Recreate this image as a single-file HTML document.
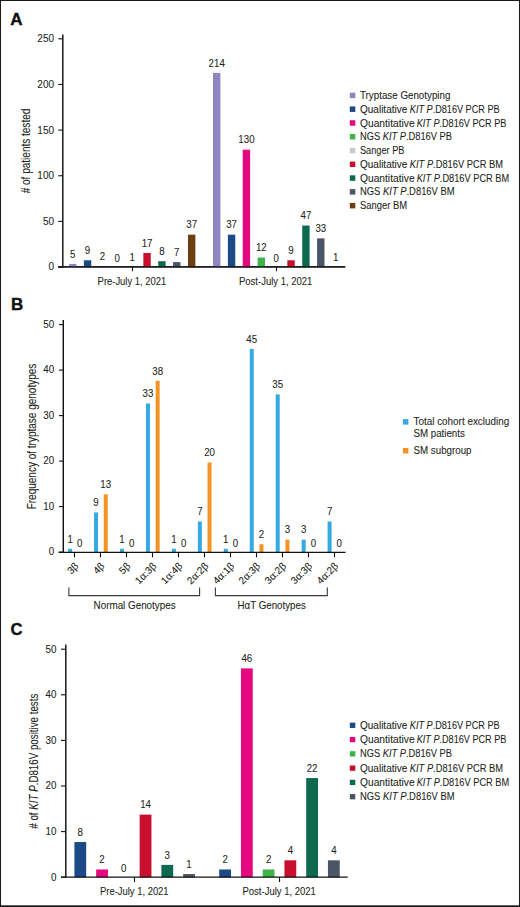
<!DOCTYPE html>
<html><head><meta charset="utf-8"><style>
html,body{margin:0;padding:0;background:#fff;}
body{width:520px;height:907px;overflow:hidden;position:relative;}
svg{position:absolute;left:0;top:0;font-family:"Liberation Sans", sans-serif;}
text{stroke:#231f20;stroke-width:0.08px;}
</style></head><body>
<svg width="520" height="907" viewBox="0 0 520 907">
<rect x="0" y="0" width="520" height="907" fill="#fff"/>
<text x="10.20" y="24.70" font-size="17" text-anchor="start" fill="#111" font-weight="bold" style="stroke:#111;stroke-width:0.4px">A</text>
<line x1="62.80" y1="34.50" x2="62.80" y2="267.40" stroke="#111111" stroke-width="1.45"/>
<line x1="58.30" y1="38.80" x2="62.80" y2="38.80" stroke="#111111" stroke-width="1.1"/>
<text transform="translate(54.00,42.20) scale(1,1.08)" font-size="10.0" text-anchor="end" fill="#231f20" font-weight="normal">250</text>
<line x1="58.30" y1="84.45" x2="62.80" y2="84.45" stroke="#111111" stroke-width="1.1"/>
<text transform="translate(54.00,87.85) scale(1,1.08)" font-size="10.0" text-anchor="end" fill="#231f20" font-weight="normal">200</text>
<line x1="58.30" y1="130.10" x2="62.80" y2="130.10" stroke="#111111" stroke-width="1.1"/>
<text transform="translate(54.00,133.50) scale(1,1.08)" font-size="10.0" text-anchor="end" fill="#231f20" font-weight="normal">150</text>
<line x1="58.30" y1="175.75" x2="62.80" y2="175.75" stroke="#111111" stroke-width="1.1"/>
<text transform="translate(54.00,179.15) scale(1,1.08)" font-size="10.0" text-anchor="end" fill="#231f20" font-weight="normal">100</text>
<line x1="58.30" y1="221.40" x2="62.80" y2="221.40" stroke="#111111" stroke-width="1.1"/>
<text transform="translate(54.00,224.80) scale(1,1.08)" font-size="10.0" text-anchor="end" fill="#231f20" font-weight="normal">50</text>
<line x1="58.30" y1="267.05" x2="62.80" y2="267.05" stroke="#111111" stroke-width="1.1"/>
<text transform="translate(54.00,270.45) scale(1,1.08)" font-size="10.0" text-anchor="end" fill="#231f20" font-weight="normal">0</text>
<line x1="58.20" y1="266.80" x2="345.20" y2="266.80" stroke="#111111" stroke-width="1.3"/>
<line x1="132.50" y1="266.80" x2="132.50" y2="271.20" stroke="#111111" stroke-width="1.1"/>
<line x1="276.50" y1="266.80" x2="276.50" y2="271.20" stroke="#111111" stroke-width="1.1"/>
<text x="97.60" y="285.20" font-size="10.3" text-anchor="start" fill="#231f20" font-weight="normal" textLength="68.6" lengthAdjust="spacingAndGlyphs">Pre-July 1, 2021</text>
<text x="239.00" y="285.20" font-size="10.3" text-anchor="start" fill="#231f20" font-weight="normal" textLength="73.4" lengthAdjust="spacingAndGlyphs">Post-July 1, 2021</text>
<text transform="translate(29.9,151.0) rotate(-90)" font-size="12.5" text-anchor="middle" fill="#231f20" textLength="84.6" lengthAdjust="spacingAndGlyphs"># of patients tested</text>
<rect x="69.00" y="263.93" width="7.40" height="3.37" fill="#9084c1"/>
<text transform="translate(72.70,257.53) scale(1,1.05)" font-size="9.7" text-anchor="middle" fill="#231f20" font-weight="normal">5</text>
<rect x="83.87" y="260.27" width="7.40" height="7.03" fill="#1b4a86"/>
<text transform="translate(87.57,253.87) scale(1,1.05)" font-size="9.7" text-anchor="middle" fill="#231f20" font-weight="normal">9</text>
<rect x="98.74" y="266.67" width="7.40" height="0.63" fill="#e5087f"/>
<text transform="translate(102.44,260.27) scale(1,1.05)" font-size="9.7" text-anchor="middle" fill="#231f20" font-weight="normal">2</text>
<text transform="translate(117.31,262.10) scale(1,1.05)" font-size="9.7" text-anchor="middle" fill="#231f20" font-weight="normal">0</text>
<rect x="128.48" y="267.59" width="7.40" height="-0.29" fill="#c9c9c9"/>
<text transform="translate(132.18,261.19) scale(1,1.05)" font-size="9.7" text-anchor="middle" fill="#231f20" font-weight="normal">1</text>
<rect x="143.35" y="252.96" width="7.40" height="14.34" fill="#c8102e"/>
<text transform="translate(147.05,246.56) scale(1,1.05)" font-size="9.7" text-anchor="middle" fill="#231f20" font-weight="normal">17</text>
<rect x="158.22" y="261.19" width="7.40" height="6.11" fill="#0d6a4e"/>
<text transform="translate(161.92,254.79) scale(1,1.05)" font-size="9.7" text-anchor="middle" fill="#231f20" font-weight="normal">8</text>
<rect x="173.09" y="262.10" width="7.40" height="5.20" fill="#4b5566"/>
<text transform="translate(176.79,255.70) scale(1,1.05)" font-size="9.7" text-anchor="middle" fill="#231f20" font-weight="normal">7</text>
<rect x="187.96" y="234.68" width="7.40" height="32.62" fill="#6b3f10"/>
<text transform="translate(191.66,228.28) scale(1,1.05)" font-size="9.7" text-anchor="middle" fill="#231f20" font-weight="normal">37</text>
<rect x="213.00" y="72.90" width="7.40" height="194.40" fill="#9084c1"/>
<text transform="translate(216.70,66.50) scale(1,1.05)" font-size="9.7" text-anchor="middle" fill="#231f20" font-weight="normal">214</text>
<rect x="227.87" y="234.68" width="7.40" height="32.62" fill="#1b4a86"/>
<text transform="translate(231.57,228.28) scale(1,1.05)" font-size="9.7" text-anchor="middle" fill="#231f20" font-weight="normal">37</text>
<rect x="242.74" y="149.68" width="7.40" height="117.62" fill="#e5087f"/>
<text transform="translate(246.44,143.28) scale(1,1.05)" font-size="9.7" text-anchor="middle" fill="#231f20" font-weight="normal">130</text>
<rect x="257.61" y="257.53" width="7.40" height="9.77" fill="#3fb34a"/>
<text transform="translate(261.31,251.13) scale(1,1.05)" font-size="9.7" text-anchor="middle" fill="#231f20" font-weight="normal">12</text>
<text transform="translate(276.18,262.10) scale(1,1.05)" font-size="9.7" text-anchor="middle" fill="#231f20" font-weight="normal">0</text>
<rect x="287.35" y="260.27" width="7.40" height="7.03" fill="#c8102e"/>
<text transform="translate(291.05,253.87) scale(1,1.05)" font-size="9.7" text-anchor="middle" fill="#231f20" font-weight="normal">9</text>
<rect x="302.22" y="225.54" width="7.40" height="41.76" fill="#0d6a4e"/>
<text transform="translate(305.92,219.14) scale(1,1.05)" font-size="9.7" text-anchor="middle" fill="#231f20" font-weight="normal">47</text>
<rect x="317.09" y="238.34" width="7.40" height="28.96" fill="#4b5566"/>
<text transform="translate(320.79,231.94) scale(1,1.05)" font-size="9.7" text-anchor="middle" fill="#231f20" font-weight="normal">33</text>
<rect x="331.96" y="267.59" width="7.40" height="-0.29" fill="#6b3f10"/>
<text transform="translate(335.66,261.19) scale(1,1.05)" font-size="9.7" text-anchor="middle" fill="#231f20" font-weight="normal">1</text>
<line x1="58.20" y1="266.80" x2="345.20" y2="266.80" stroke="#111111" stroke-width="1.3"/>
<rect x="349.80" y="92.65" width="5.50" height="5.50" fill="#9084c1"/>
<text x="360.00" y="99.00" font-size="10.3" text-anchor="start" fill="#231f20" font-weight="normal" textLength="90.4" lengthAdjust="spacingAndGlyphs">Tryptase Genotyping</text>
<rect x="349.80" y="106.43" width="5.50" height="5.50" fill="#1b4a86"/>
<text x="360.00" y="112.78" font-size="10.3" text-anchor="start" fill="#231f20" font-weight="normal" textLength="47.3" lengthAdjust="spacingAndGlyphs">Qualitative</text>
<text x="409.80" y="112.78" font-size="10.3" text-anchor="start" fill="#231f20" font-weight="normal" textLength="89.8" lengthAdjust="spacingAndGlyphs"><tspan font-style="italic">KIT P</tspan>.D816V PCR PB</text>
<rect x="349.80" y="120.21" width="5.50" height="5.50" fill="#e5087f"/>
<text x="360.00" y="126.56" font-size="10.3" text-anchor="start" fill="#231f20" font-weight="normal" textLength="54.6" lengthAdjust="spacingAndGlyphs">Quantitative</text>
<text x="416.70" y="126.56" font-size="10.3" text-anchor="start" fill="#231f20" font-weight="normal" textLength="89.7" lengthAdjust="spacingAndGlyphs"><tspan font-style="italic">KIT P</tspan>.D816V PCR PB</text>
<rect x="349.80" y="133.99" width="5.50" height="5.50" fill="#3fb34a"/>
<text x="360.00" y="140.34" font-size="10.3" text-anchor="start" fill="#231f20" font-weight="normal" textLength="92.0" lengthAdjust="spacingAndGlyphs">NGS <tspan font-style="italic">KIT P</tspan>.D816V PB</text>
<rect x="349.80" y="147.77" width="5.50" height="5.50" fill="#c9c9c9"/>
<text x="360.00" y="154.12" font-size="10.3" text-anchor="start" fill="#231f20" font-weight="normal" textLength="44.4" lengthAdjust="spacingAndGlyphs">Sanger PB</text>
<rect x="349.80" y="161.55" width="5.50" height="5.50" fill="#c8102e"/>
<text x="360.00" y="167.90" font-size="10.3" text-anchor="start" fill="#231f20" font-weight="normal" textLength="47.3" lengthAdjust="spacingAndGlyphs">Qualitative</text>
<text x="409.80" y="167.90" font-size="10.3" text-anchor="start" fill="#231f20" font-weight="normal" textLength="93.2" lengthAdjust="spacingAndGlyphs"><tspan font-style="italic">KIT P</tspan>.D816V PCR BM</text>
<rect x="349.80" y="175.33" width="5.50" height="5.50" fill="#0d6a4e"/>
<text x="360.00" y="181.68" font-size="10.3" text-anchor="start" fill="#231f20" font-weight="normal" textLength="54.6" lengthAdjust="spacingAndGlyphs">Quantitative</text>
<text x="416.70" y="181.68" font-size="10.3" text-anchor="start" fill="#231f20" font-weight="normal" textLength="92.5" lengthAdjust="spacingAndGlyphs"><tspan font-style="italic">KIT P</tspan>.D816V PCR BM</text>
<rect x="349.80" y="189.11" width="5.50" height="5.50" fill="#4b5566"/>
<text x="360.00" y="195.46" font-size="10.3" text-anchor="start" fill="#231f20" font-weight="normal" textLength="94.6" lengthAdjust="spacingAndGlyphs">NGS <tspan font-style="italic">KIT P</tspan>.D816V BM</text>
<rect x="349.80" y="202.89" width="5.50" height="5.50" fill="#6b3f10"/>
<text x="360.00" y="209.24" font-size="10.3" text-anchor="start" fill="#231f20" font-weight="normal" textLength="47.0" lengthAdjust="spacingAndGlyphs">Sanger BM</text>
<text x="11.00" y="310.30" font-size="17" text-anchor="start" fill="#111" font-weight="bold" style="stroke:#111;stroke-width:0.4px">B</text>
<line x1="63.30" y1="320.00" x2="63.30" y2="553.00" stroke="#111111" stroke-width="1.45"/>
<line x1="59.00" y1="324.60" x2="63.30" y2="324.60" stroke="#111111" stroke-width="1.1"/>
<text transform="translate(54.10,327.90) scale(1,1.12)" font-size="9.8" text-anchor="end" fill="#231f20" font-weight="normal">50</text>
<line x1="59.00" y1="370.10" x2="63.30" y2="370.10" stroke="#111111" stroke-width="1.1"/>
<text transform="translate(54.10,373.40) scale(1,1.12)" font-size="9.8" text-anchor="end" fill="#231f20" font-weight="normal">40</text>
<line x1="59.00" y1="415.60" x2="63.30" y2="415.60" stroke="#111111" stroke-width="1.1"/>
<text transform="translate(54.10,418.90) scale(1,1.12)" font-size="9.8" text-anchor="end" fill="#231f20" font-weight="normal">30</text>
<line x1="59.00" y1="461.10" x2="63.30" y2="461.10" stroke="#111111" stroke-width="1.1"/>
<text transform="translate(54.10,464.40) scale(1,1.12)" font-size="9.8" text-anchor="end" fill="#231f20" font-weight="normal">20</text>
<line x1="59.00" y1="506.60" x2="63.30" y2="506.60" stroke="#111111" stroke-width="1.1"/>
<text transform="translate(54.10,509.90) scale(1,1.12)" font-size="9.8" text-anchor="end" fill="#231f20" font-weight="normal">10</text>
<line x1="59.00" y1="552.10" x2="63.30" y2="552.10" stroke="#111111" stroke-width="1.1"/>
<text transform="translate(54.10,555.40) scale(1,1.12)" font-size="9.8" text-anchor="end" fill="#231f20" font-weight="normal">0</text>
<text transform="translate(35.9,436.5) rotate(-90)" font-size="12.5" text-anchor="middle" fill="#231f20" textLength="145.7" lengthAdjust="spacingAndGlyphs">Frequency of tryptase genotypes</text>
<rect x="68.10" y="548.76" width="4.00" height="3.54" fill="#35a9e1"/>
<text transform="translate(70.10,542.56) scale(1,1.05)" font-size="9.7" text-anchor="middle" fill="#231f20" font-weight="normal">1</text>
<text transform="translate(79.80,547.10) scale(1,1.05)" font-size="9.7" text-anchor="middle" fill="#231f20" font-weight="normal">0</text>
<line x1="74.50" y1="552.40" x2="74.50" y2="557.30" stroke="#111111" stroke-width="1.1"/>
<text transform="translate(79.20,566.7) rotate(-45)" font-size="10" text-anchor="end" fill="#231f20">3&#946;</text>
<rect x="94.05" y="512.44" width="4.00" height="39.86" fill="#35a9e1"/>
<text transform="translate(96.05,506.24) scale(1,1.05)" font-size="9.7" text-anchor="middle" fill="#231f20" font-weight="normal">9</text>
<rect x="103.75" y="494.28" width="4.00" height="58.02" fill="#f39324"/>
<text transform="translate(105.75,488.08) scale(1,1.05)" font-size="9.7" text-anchor="middle" fill="#231f20" font-weight="normal">13</text>
<line x1="100.50" y1="552.40" x2="100.50" y2="557.30" stroke="#111111" stroke-width="1.1"/>
<text transform="translate(105.15,566.7) rotate(-45)" font-size="10" text-anchor="end" fill="#231f20">4&#946;</text>
<rect x="120.00" y="548.76" width="4.00" height="3.54" fill="#35a9e1"/>
<text transform="translate(122.00,542.56) scale(1,1.05)" font-size="9.7" text-anchor="middle" fill="#231f20" font-weight="normal">1</text>
<text transform="translate(131.70,547.10) scale(1,1.05)" font-size="9.7" text-anchor="middle" fill="#231f20" font-weight="normal">0</text>
<line x1="126.50" y1="552.40" x2="126.50" y2="557.30" stroke="#111111" stroke-width="1.1"/>
<text transform="translate(131.10,566.7) rotate(-45)" font-size="10" text-anchor="end" fill="#231f20">5&#946;</text>
<rect x="145.95" y="403.48" width="4.00" height="148.82" fill="#35a9e1"/>
<text transform="translate(147.95,397.28) scale(1,1.05)" font-size="9.7" text-anchor="middle" fill="#231f20" font-weight="normal">33</text>
<rect x="155.65" y="380.78" width="4.00" height="171.52" fill="#f39324"/>
<text transform="translate(157.65,374.58) scale(1,1.05)" font-size="9.7" text-anchor="middle" fill="#231f20" font-weight="normal">38</text>
<line x1="152.50" y1="552.40" x2="152.50" y2="557.30" stroke="#111111" stroke-width="1.1"/>
<text transform="translate(157.05,566.7) rotate(-45)" font-size="10" text-anchor="end" fill="#231f20">1&#945;:3&#946;</text>
<rect x="171.90" y="548.76" width="4.00" height="3.54" fill="#35a9e1"/>
<text transform="translate(173.90,542.56) scale(1,1.05)" font-size="9.7" text-anchor="middle" fill="#231f20" font-weight="normal">1</text>
<text transform="translate(183.60,547.10) scale(1,1.05)" font-size="9.7" text-anchor="middle" fill="#231f20" font-weight="normal">0</text>
<line x1="178.50" y1="552.40" x2="178.50" y2="557.30" stroke="#111111" stroke-width="1.1"/>
<text transform="translate(183.00,566.7) rotate(-45)" font-size="10" text-anchor="end" fill="#231f20">1&#945;:4&#946;</text>
<rect x="197.85" y="521.52" width="4.00" height="30.78" fill="#35a9e1"/>
<text transform="translate(199.85,515.32) scale(1,1.05)" font-size="9.7" text-anchor="middle" fill="#231f20" font-weight="normal">7</text>
<rect x="207.55" y="462.50" width="4.00" height="89.80" fill="#f39324"/>
<text transform="translate(209.55,456.30) scale(1,1.05)" font-size="9.7" text-anchor="middle" fill="#231f20" font-weight="normal">20</text>
<line x1="204.50" y1="552.40" x2="204.50" y2="557.30" stroke="#111111" stroke-width="1.1"/>
<text transform="translate(208.95,566.7) rotate(-45)" font-size="10" text-anchor="end" fill="#231f20">2&#945;:2&#946;</text>
<rect x="223.80" y="548.76" width="4.00" height="3.54" fill="#35a9e1"/>
<text transform="translate(225.80,542.56) scale(1,1.05)" font-size="9.7" text-anchor="middle" fill="#231f20" font-weight="normal">1</text>
<text transform="translate(235.50,547.10) scale(1,1.05)" font-size="9.7" text-anchor="middle" fill="#231f20" font-weight="normal">0</text>
<line x1="230.50" y1="552.40" x2="230.50" y2="557.30" stroke="#111111" stroke-width="1.1"/>
<text transform="translate(234.90,566.7) rotate(-45)" font-size="10" text-anchor="end" fill="#231f20">4&#945;:1&#946;</text>
<rect x="249.75" y="349.00" width="4.00" height="203.30" fill="#35a9e1"/>
<text transform="translate(251.75,342.80) scale(1,1.05)" font-size="9.7" text-anchor="middle" fill="#231f20" font-weight="normal">45</text>
<rect x="259.45" y="544.22" width="4.00" height="8.08" fill="#f39324"/>
<text transform="translate(261.45,538.02) scale(1,1.05)" font-size="9.7" text-anchor="middle" fill="#231f20" font-weight="normal">2</text>
<line x1="256.50" y1="552.40" x2="256.50" y2="557.30" stroke="#111111" stroke-width="1.1"/>
<text transform="translate(260.85,566.7) rotate(-45)" font-size="10" text-anchor="end" fill="#231f20">2&#945;:3&#946;</text>
<rect x="275.70" y="394.40" width="4.00" height="157.90" fill="#35a9e1"/>
<text transform="translate(277.70,388.20) scale(1,1.05)" font-size="9.7" text-anchor="middle" fill="#231f20" font-weight="normal">35</text>
<rect x="285.40" y="539.68" width="4.00" height="12.62" fill="#f39324"/>
<text transform="translate(287.40,533.48) scale(1,1.05)" font-size="9.7" text-anchor="middle" fill="#231f20" font-weight="normal">3</text>
<line x1="282.50" y1="552.40" x2="282.50" y2="557.30" stroke="#111111" stroke-width="1.1"/>
<text transform="translate(286.80,566.7) rotate(-45)" font-size="10" text-anchor="end" fill="#231f20">3&#945;:2&#946;</text>
<rect x="301.65" y="539.68" width="4.00" height="12.62" fill="#35a9e1"/>
<text transform="translate(303.65,533.48) scale(1,1.05)" font-size="9.7" text-anchor="middle" fill="#231f20" font-weight="normal">3</text>
<text transform="translate(313.35,547.10) scale(1,1.05)" font-size="9.7" text-anchor="middle" fill="#231f20" font-weight="normal">0</text>
<line x1="308.50" y1="552.40" x2="308.50" y2="557.30" stroke="#111111" stroke-width="1.1"/>
<text transform="translate(312.75,566.7) rotate(-45)" font-size="10" text-anchor="end" fill="#231f20">3&#945;:3&#946;</text>
<rect x="327.60" y="521.52" width="4.00" height="30.78" fill="#35a9e1"/>
<text transform="translate(329.60,515.32) scale(1,1.05)" font-size="9.7" text-anchor="middle" fill="#231f20" font-weight="normal">7</text>
<text transform="translate(339.30,547.10) scale(1,1.05)" font-size="9.7" text-anchor="middle" fill="#231f20" font-weight="normal">0</text>
<line x1="334.50" y1="552.40" x2="334.50" y2="557.30" stroke="#111111" stroke-width="1.1"/>
<text transform="translate(338.70,566.7) rotate(-45)" font-size="10" text-anchor="end" fill="#231f20">4&#945;:2&#946;</text>
<line x1="58.50" y1="552.40" x2="345.50" y2="552.40" stroke="#111111" stroke-width="1.3"/>
<path d="M68.9,587.5 V595.6 H199.6 V587.5" fill="none" stroke="#3a3a3a" stroke-width="1.1"/>
<path d="M215.4,587.5 V595.6 H327.3 V587.5" fill="none" stroke="#3a3a3a" stroke-width="1.1"/>
<text x="93.60" y="608.50" font-size="10.3" text-anchor="start" fill="#231f20" font-weight="normal" textLength="82.0" lengthAdjust="spacingAndGlyphs">Normal Genotypes</text>
<text x="237.50" y="608.50" font-size="10.3" text-anchor="start" fill="#231f20" font-weight="normal" textLength="68.3" lengthAdjust="spacingAndGlyphs">H&#945;T Genotypes</text>
<rect x="402.90" y="419.10" width="5.50" height="5.50" fill="#35a9e1"/>
<text x="413.50" y="425.00" font-size="10.3" text-anchor="start" fill="#231f20" font-weight="normal" textLength="95.7" lengthAdjust="spacingAndGlyphs">Total cohort excluding</text>
<text x="413.50" y="436.70" font-size="10.3" text-anchor="start" fill="#231f20" font-weight="normal" textLength="51.3" lengthAdjust="spacingAndGlyphs">SM patients</text>
<rect x="402.90" y="448.00" width="5.50" height="5.50" fill="#f39324"/>
<text x="413.50" y="453.60" font-size="10.3" text-anchor="start" fill="#231f20" font-weight="normal" textLength="58.0" lengthAdjust="spacingAndGlyphs">SM subgroup</text>
<text x="10.60" y="634.90" font-size="16.6" text-anchor="start" fill="#111" font-weight="bold" style="stroke:#111;stroke-width:0.4px">C</text>
<line x1="65.80" y1="644.60" x2="65.80" y2="877.60" stroke="#111111" stroke-width="1.45"/>
<line x1="61.00" y1="649.20" x2="65.80" y2="649.20" stroke="#111111" stroke-width="1.1"/>
<text transform="translate(56.50,652.50) scale(1,1.12)" font-size="9.8" text-anchor="end" fill="#231f20" font-weight="normal">50</text>
<line x1="61.00" y1="694.80" x2="65.80" y2="694.80" stroke="#111111" stroke-width="1.1"/>
<text transform="translate(56.50,698.10) scale(1,1.12)" font-size="9.8" text-anchor="end" fill="#231f20" font-weight="normal">40</text>
<line x1="61.00" y1="740.40" x2="65.80" y2="740.40" stroke="#111111" stroke-width="1.1"/>
<text transform="translate(56.50,743.70) scale(1,1.12)" font-size="9.8" text-anchor="end" fill="#231f20" font-weight="normal">30</text>
<line x1="61.00" y1="786.00" x2="65.80" y2="786.00" stroke="#111111" stroke-width="1.1"/>
<text transform="translate(56.50,789.30) scale(1,1.12)" font-size="9.8" text-anchor="end" fill="#231f20" font-weight="normal">20</text>
<line x1="61.00" y1="831.60" x2="65.80" y2="831.60" stroke="#111111" stroke-width="1.1"/>
<text transform="translate(56.50,834.90) scale(1,1.12)" font-size="9.8" text-anchor="end" fill="#231f20" font-weight="normal">10</text>
<line x1="61.00" y1="877.20" x2="65.80" y2="877.20" stroke="#111111" stroke-width="1.1"/>
<text transform="translate(56.50,880.50) scale(1,1.12)" font-size="9.8" text-anchor="end" fill="#231f20" font-weight="normal">0</text>
<text transform="translate(37.9,761.2) rotate(-90)" font-size="12.5" text-anchor="middle" fill="#231f20" textLength="135" lengthAdjust="spacingAndGlyphs"># of <tspan font-style="italic">KIT P</tspan>.D816V positive tests</text>
<rect x="74.40" y="842.04" width="11.80" height="35.36" fill="#1b4a86"/>
<text transform="translate(80.30,835.84) scale(1,1.05)" font-size="9.7" text-anchor="middle" fill="#231f20" font-weight="normal">8</text>
<rect x="96.15" y="869.46" width="11.80" height="7.94" fill="#e5087f"/>
<text transform="translate(102.05,863.26) scale(1,1.05)" font-size="9.7" text-anchor="middle" fill="#231f20" font-weight="normal">2</text>
<text transform="translate(123.80,872.40) scale(1,1.05)" font-size="9.7" text-anchor="middle" fill="#231f20" font-weight="normal">0</text>
<rect x="139.65" y="814.62" width="11.80" height="62.78" fill="#c8102e"/>
<text transform="translate(145.55,808.42) scale(1,1.05)" font-size="9.7" text-anchor="middle" fill="#231f20" font-weight="normal">14</text>
<rect x="161.40" y="864.89" width="11.80" height="12.51" fill="#0d6a4e"/>
<text transform="translate(167.30,858.69) scale(1,1.05)" font-size="9.7" text-anchor="middle" fill="#231f20" font-weight="normal">3</text>
<rect x="183.15" y="874.03" width="11.80" height="3.37" fill="#4b5566"/>
<text transform="translate(189.05,867.83) scale(1,1.05)" font-size="9.7" text-anchor="middle" fill="#231f20" font-weight="normal">1</text>
<rect x="219.20" y="869.46" width="11.80" height="7.94" fill="#1b4a86"/>
<text transform="translate(225.10,863.26) scale(1,1.05)" font-size="9.7" text-anchor="middle" fill="#231f20" font-weight="normal">2</text>
<rect x="240.95" y="668.38" width="11.80" height="209.02" fill="#e5087f"/>
<text transform="translate(246.85,662.18) scale(1,1.05)" font-size="9.7" text-anchor="middle" fill="#231f20" font-weight="normal">46</text>
<rect x="262.70" y="869.46" width="11.80" height="7.94" fill="#3fb34a"/>
<text transform="translate(268.60,863.26) scale(1,1.05)" font-size="9.7" text-anchor="middle" fill="#231f20" font-weight="normal">2</text>
<rect x="284.45" y="860.32" width="11.80" height="17.08" fill="#c8102e"/>
<text transform="translate(290.35,854.12) scale(1,1.05)" font-size="9.7" text-anchor="middle" fill="#231f20" font-weight="normal">4</text>
<rect x="306.20" y="778.06" width="11.80" height="99.34" fill="#0d6a4e"/>
<text transform="translate(312.10,771.86) scale(1,1.05)" font-size="9.7" text-anchor="middle" fill="#231f20" font-weight="normal">22</text>
<rect x="327.95" y="860.32" width="11.80" height="17.08" fill="#4b5566"/>
<text transform="translate(333.85,854.12) scale(1,1.05)" font-size="9.7" text-anchor="middle" fill="#231f20" font-weight="normal">4</text>
<line x1="61.00" y1="877.20" x2="347.70" y2="877.20" stroke="#111111" stroke-width="1.3"/>
<line x1="134.50" y1="877.20" x2="134.50" y2="882.00" stroke="#111111" stroke-width="1.1"/>
<line x1="279.50" y1="877.20" x2="279.50" y2="882.00" stroke="#111111" stroke-width="1.1"/>
<text x="100.00" y="895.20" font-size="10.3" text-anchor="start" fill="#231f20" font-weight="normal" textLength="68.6" lengthAdjust="spacingAndGlyphs">Pre-July 1, 2021</text>
<text x="242.50" y="895.20" font-size="10.3" text-anchor="start" fill="#231f20" font-weight="normal" textLength="73.4" lengthAdjust="spacingAndGlyphs">Post-July 1, 2021</text>
<rect x="349.80" y="722.65" width="5.50" height="5.30" fill="#1b4a86"/>
<text x="360.00" y="728.90" font-size="10.3" text-anchor="start" fill="#231f20" font-weight="normal" textLength="47.3" lengthAdjust="spacingAndGlyphs">Qualitative</text>
<text x="409.80" y="728.90" font-size="10.3" text-anchor="start" fill="#231f20" font-weight="normal" textLength="89.8" lengthAdjust="spacingAndGlyphs"><tspan font-style="italic">KIT P</tspan>.D816V PCR PB</text>
<rect x="349.80" y="736.93" width="5.50" height="5.30" fill="#e5087f"/>
<text x="360.00" y="743.18" font-size="10.3" text-anchor="start" fill="#231f20" font-weight="normal" textLength="54.6" lengthAdjust="spacingAndGlyphs">Quantitative</text>
<text x="416.70" y="743.18" font-size="10.3" text-anchor="start" fill="#231f20" font-weight="normal" textLength="89.7" lengthAdjust="spacingAndGlyphs"><tspan font-style="italic">KIT P</tspan>.D816V PCR PB</text>
<rect x="349.80" y="751.21" width="5.50" height="5.30" fill="#3fb34a"/>
<text x="360.00" y="757.46" font-size="10.3" text-anchor="start" fill="#231f20" font-weight="normal" textLength="92.0" lengthAdjust="spacingAndGlyphs">NGS <tspan font-style="italic">KIT P</tspan>.D816V PB</text>
<rect x="349.80" y="765.49" width="5.50" height="5.30" fill="#c8102e"/>
<text x="360.00" y="771.74" font-size="10.3" text-anchor="start" fill="#231f20" font-weight="normal" textLength="47.3" lengthAdjust="spacingAndGlyphs">Qualitative</text>
<text x="409.80" y="771.74" font-size="10.3" text-anchor="start" fill="#231f20" font-weight="normal" textLength="93.2" lengthAdjust="spacingAndGlyphs"><tspan font-style="italic">KIT P</tspan>.D816V PCR BM</text>
<rect x="349.80" y="779.77" width="5.50" height="5.30" fill="#0d6a4e"/>
<text x="360.00" y="786.02" font-size="10.3" text-anchor="start" fill="#231f20" font-weight="normal" textLength="54.6" lengthAdjust="spacingAndGlyphs">Quantitative</text>
<text x="416.70" y="786.02" font-size="10.3" text-anchor="start" fill="#231f20" font-weight="normal" textLength="92.5" lengthAdjust="spacingAndGlyphs"><tspan font-style="italic">KIT P</tspan>.D816V PCR BM</text>
<rect x="349.80" y="794.05" width="5.50" height="5.30" fill="#4b5566"/>
<text x="360.00" y="800.30" font-size="10.3" text-anchor="start" fill="#231f20" font-weight="normal" textLength="94.6" lengthAdjust="spacingAndGlyphs">NGS <tspan font-style="italic">KIT P</tspan>.D816V BM</text>
<rect x="0" y="0" width="520" height="1" fill="#1a1a1a"/>
<rect x="0" y="0" width="1" height="907" fill="#1a1a1a"/>
<rect x="519" y="0" width="1" height="907" fill="#1a1a1a"/>
<rect x="0" y="905.3" width="520" height="1.7" fill="#1a1a1a"/>
</svg>
</body></html>
